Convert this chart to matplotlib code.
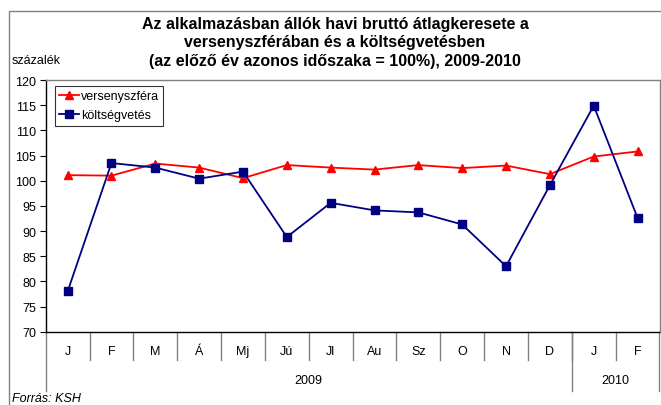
import matplotlib
matplotlib.use("Agg")
import matplotlib.pyplot as plt
import matplotlib.transforms as mtransforms
from matplotlib.patches import Rectangle

plt.rcParams['font.family'] = ['Liberation Sans', 'DejaVu Sans']

months = ["J", "F", "M", "Á", "Mj", "Jú", "Jl", "Au", "Sz", "O", "N", "D", "J", "F"]
years = ["2009", "2010"]
year_counts = [12, 2]
verseny = [101.1, 101.0, 103.4, 102.6, 100.5, 103.1, 102.6, 102.2, 103.1, 102.5, 103.0, 101.3, 104.8, 105.8]
koltseg = [78.0, 103.5, 102.6, 100.4, 101.8, 88.8, 95.6, 94.1, 93.7, 91.3, 83.0, 99.1, 114.9, 92.6]
yticks = list(range(70, 121, 5))

W, H = 661, 406
fig = plt.figure(figsize=(W / 100, H / 100), dpi=100)

# outer chart frame
fig.patches.append(Rectangle((9 / W, -0.1), 1.2, 1 - 11.5 / H + 0.1, transform=fig.transFigure,
                             fill=False, edgecolor='#808080', linewidth=1.0))

left, right, top, bottom = 45.7, 659.5, 81.0, 332.7
ax = fig.add_axes([left / W, 1 - bottom / H, (right - left) / W, (bottom - top) / H])

x = list(range(len(months)))
ax.plot(x, verseny, color='#FF0000', linewidth=1.3, marker='^', markersize=6,
        label='versenyszféra', zorder=3)
ax.plot(x, koltseg, color='#000080', linewidth=1.3, marker='s', markersize=5.5,
        label='költségvetés', zorder=3)

ax.set_xlim(-0.5, len(months) - 0.5)
ax.set_ylim(70, 120)
ax.set_yticks(yticks)
ax.set_yticklabels([str(v) for v in yticks], fontsize=9)
ax.tick_params(axis='y', direction='out', length=4, width=0.8, pad=3)
ax.set_xticks([])

for s in ['top', 'right']:
    ax.spines[s].set_color('#808080')
    ax.spines[s].set_linewidth(1.0)
for s in ['left', 'bottom']:
    ax.spines[s].set_color('black')
    ax.spines[s].set_linewidth(1.0)

axh = bottom - top
trans = mtransforms.blended_transform_factory(ax.transData, ax.transAxes)

# month separators and labels
month_sep_y = -(360.7 - bottom) / axh
for k in range(1, len(months)):
    ax.plot([k - 0.5, k - 0.5], [0, month_sep_y], transform=trans, color='#808080',
            linewidth=1.0, clip_on=False)
for i, m in enumerate(months):
    ax.text(i, -(352.5 - bottom) / axh, m, transform=trans, ha='center', va='center', fontsize=9)

# year separators and labels
year_sep_y = -(392 - bottom) / axh
start = 0
bounds = [-0.5]
for cnt in year_counts:
    start += cnt
    bounds.append(start - 0.5)
for b in bounds:
    ax.plot([b, b], [0, year_sep_y], transform=trans, color='#808080', linewidth=1.0, clip_on=False)
for yi, yl in enumerate(years):
    c = (bounds[yi] + bounds[yi + 1]) / 2
    ax.text(c, -(381 - bottom) / axh, yl, transform=trans, ha='center', va='center', fontsize=9)

leg = ax.legend(loc='upper left', bbox_to_anchor=((55 - left) / (right - left), 1 - (87 - top) / axh),
                fontsize=9, frameon=True, fancybox=False, edgecolor='black', borderpad=0.35,
                handlelength=1.6, handletextpad=0.1, labelspacing=0.55, borderaxespad=0)
leg.get_frame().set_linewidth(0.8)

fig.text(335 / W, 1 - 24 / H, "Az alkalmazásban állók havi bruttó átlagkeresete a",
         ha='center', va='center', fontsize=11.5, fontweight='bold')
fig.text(335 / W, 1 - 42.7 / H, "versenyszférában és a költségvetésben",
         ha='center', va='center', fontsize=11.5, fontweight='bold')
fig.text(335 / W, 1 - 61.5 / H, "(az előző év azonos időszaka = 100%), 2009-2010",
         ha='center', va='center', fontsize=11.5, fontweight='bold')
fig.text(12 / W, 1 - 61.5 / H, "százalék", ha='left', va='center', fontsize=9)
fig.text(12 / W, 1 - 399 / H, "Forrás: KSH", ha='left', va='center', fontsize=9, style='italic')

fig.savefig("out.png", dpi=100)
